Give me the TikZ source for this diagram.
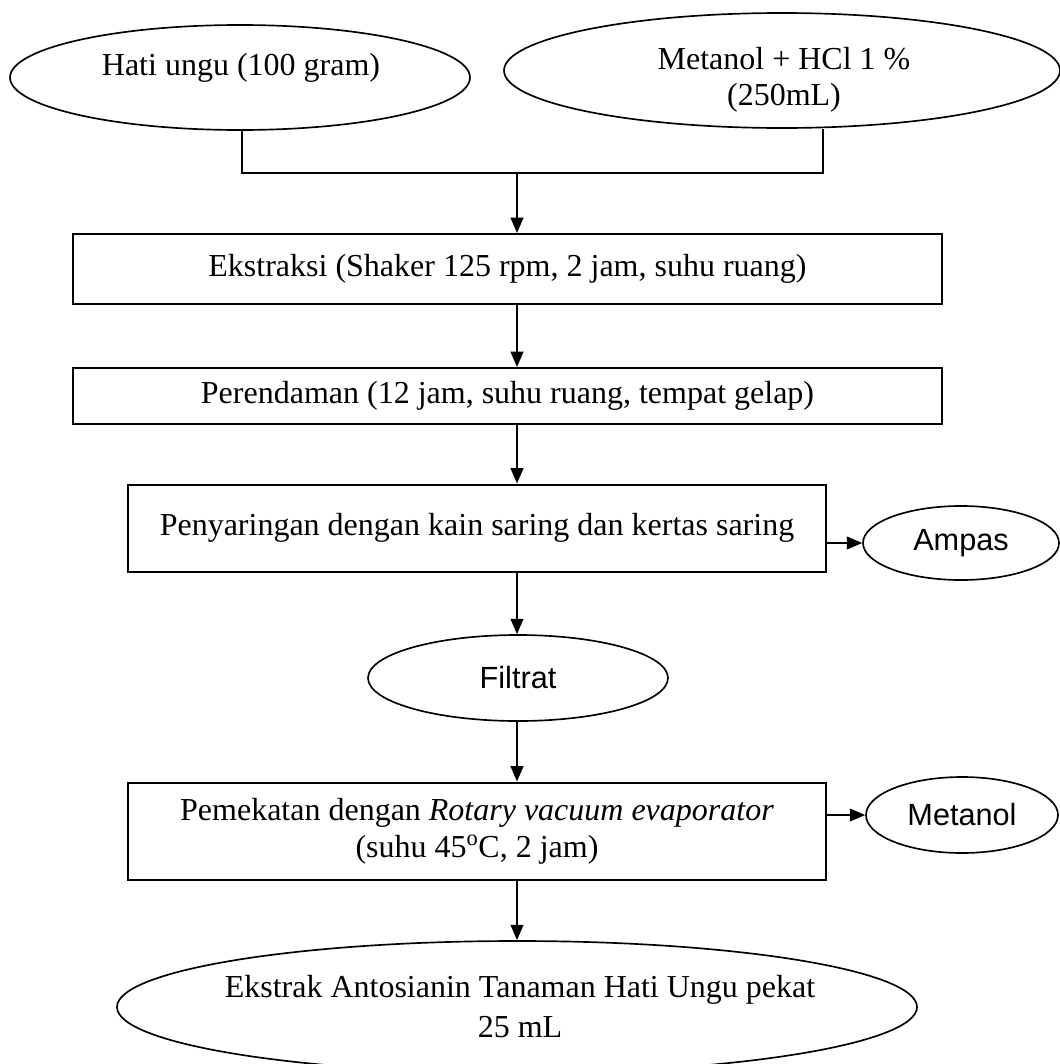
\documentclass[tikz,border=0pt]{standalone}
\usepackage{fontspec}
\setmainfont{Liberation Serif}
\newfontfamily\arialfont{Liberation Sans}
\usetikzlibrary{shapes.geometric,arrows.meta}
\tikzset{
  proc/.style={draw, line width=1.5pt, rectangle, inner sep=0pt, align=center,
    font=\fontsize{24}{28}\selectfont},
  oval/.style={draw, line width=1.25pt, ellipse, inner sep=0pt},
  txt/.style={inner sep=0pt, align=center, font=\fontsize{24}{27}\selectfont},
  soval/.style={oval, font=\arialfont\fontsize{23}{27}\selectfont},
  conn/.style={line width=1.5pt},
  arr/.style={line width=1.5pt, -{Triangle[length=11.5pt,width=9.5pt]}}
}
\begin{document}
\begin{tikzpicture}[x=0.75pt,y=-0.75pt]
\useasboundingbox (0,0) rectangle (1060,1064);
\begin{scope}
\clip (0,0) rectangle (1060,1064);
% top ovals
\node[oval, minimum width=460*0.75pt, minimum height=105*0.75pt] (e1) at (240,77.5) {};
\node[txt] (t1) at (241,68) {Hati ungu (100 gram)};
\node[oval, minimum width=556*0.75pt, minimum height=115*0.75pt] (e2) at (782,70.5) {};
\node[txt] (t2) at (784,80) {Metanol + HCl 1 \%\\(250mL)};
\coordinate (c1) at (242,173);
\coordinate (c2) at (823,173);
\coordinate (cm) at (517,173);
% boxes
\node[proc, minimum width=869*0.75pt, minimum height=70*0.75pt] (b1) at (507.5,269) {Ekstraksi (Shaker 125 rpm, 2 jam, suhu ruang)};
\node[proc, minimum width=869*0.75pt, minimum height=56*0.75pt] (b2) at (507.5,396) {Perendaman (12 jam, suhu ruang, tempat gelap)};
\node[proc, minimum width=698*0.75pt, minimum height=87*0.75pt] (b3) at (477,528) {Penyaringan dengan kain saring dan kertas saring};
\node[soval, minimum width=196*0.75pt, minimum height=74*0.75pt] (amp) at (961,543) {Ampas};
\node[soval, minimum width=300*0.75pt, minimum height=86*0.75pt] (fil) at (518,678) {Filtrat};
\node[proc, minimum width=698*0.75pt, minimum height=97*0.75pt] (b4) at (477,831) {Pemekatan dengan \textit{Rotary vacuum evaporator}\\(suhu 45\textsuperscript{o}C, 2 jam)};
\node[soval, minimum width=192*0.75pt, minimum height=76*0.75pt] (met) at (962,815) {Metanol};
\node[oval, minimum width=800*0.75pt, minimum height=132*0.75pt] (fin) at (517,1007) {};
\node[txt, font=\fontsize{24}{30}\selectfont] (t3) at (520,1007) {Ekstrak Antosianin Tanaman Hati Ungu pekat\\25 mL};
% connectors
\draw[conn] (e1.south -| c1) -- (c1) -- (c2) -- (e2.south -| c2);
\draw[arr] (cm) -- (b1.north -| cm);
\draw[arr] (b1.south -| cm) -- (b2.north -| cm);
\draw[arr] (b2.south -| cm) -- (b3.north -| cm);
\draw[arr] (b3.south -| cm) -- (fil.north -| cm);
\draw[arr] (b3.east |- amp) -- (amp.west);
\draw[arr] (fil.south -| cm) -- (b4.north -| cm);
\draw[arr] (b4.east |- met) -- (met.west);
\draw[arr] (b4.south -| cm) -- (fin.north -| cm);
\end{scope}
\end{tikzpicture}
\end{document}
